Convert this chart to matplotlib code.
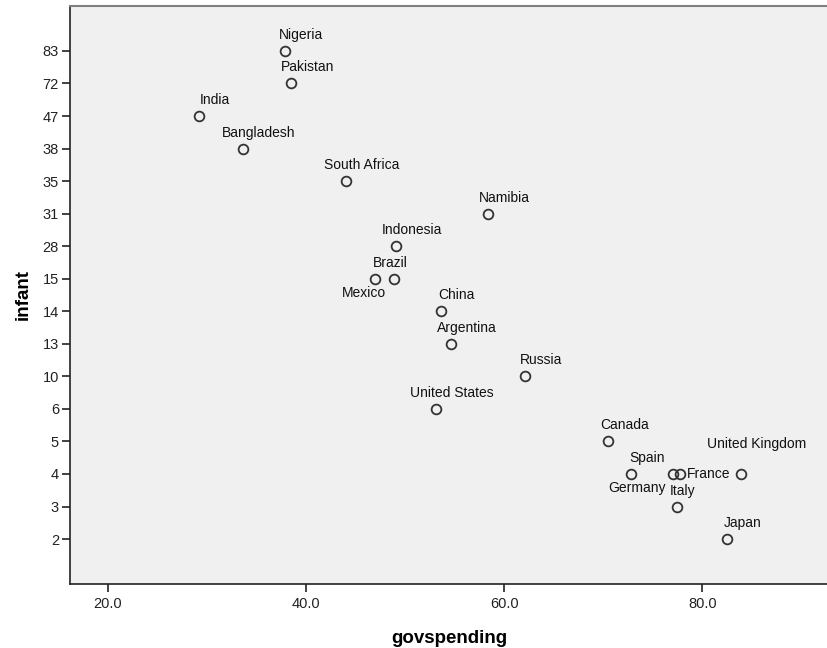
import matplotlib.pyplot as plt
import numpy as np

# Data
countries = ["Nigeria", "Pakistan", "India", "Bangladesh", "South Africa",
             "Namibia", "Indonesia", "Brazil", "Mexico", "China", "Argentina",
             "Russia", "United States", "Canada", "Spain", "Germany", "France",
             "United Kingdom", "Italy", "Japan"]
govspending = [37.9, 38.5, 29.2, 33.6, 44.0,
               58.4, 49.1, 48.9, 47.0, 53.6, 54.6,
               62.1, 53.1, 70.5, 72.8, 77.0, 77.8,
               83.9, 77.5, 82.5]
infant = [83, 72, 47, 38, 35,
          31, 28, 15, 15, 14, 13,
          10, 6, 5, 4, 4, 4,
          4, 3, 2]

# infant is shown as an ordinal axis: every distinct value gets one slot
levels = sorted(set(infant))
level_pos = {v: i for i, v in enumerate(levels)}

# label offsets in pixels (dx, dy), default is above and a bit right
label_offsets = {
    "Brazil": (-4, 16),
    "Mexico": (-11, -14),
    "Germany": (-36, -14),
    "France": (28, 0),
    "United Kingdom": (16, 30),
    "Italy": (5, 16),
}

plt.rcParams['font.family'] = ['Liberation Sans', 'DejaVu Sans']

fig = plt.figure(figsize=(8.28, 6.48), dpi=100)
ax = fig.add_axes([70 / 828, 64 / 648, 758 / 828, 578 / 648])
ax.set_facecolor("#f0f0f0")

ys = [level_pos[v] for v in infant]
ax.plot(govspending, ys, "o", markersize=7, markerfacecolor="none",
        markeredgecolor="#333333", markeredgewidth=1.3)

for name, x, y in zip(countries, govspending, ys):
    dx, dy = label_offsets.get(name, (16, 16))
    ax.annotate(name, (x, y), xytext=(dx * 0.72, dy * 0.72),
                textcoords="offset points", ha="center", va="center",
                fontsize=10, color="#111111")

ax.set_xlim(16.16, 92.7)
ax.set_ylim(-1.38, len(levels) - 1 + 1.38)
ax.set_xticks([20, 40, 60, 80])
ax.set_xticklabels(["20.0", "40.0", "60.0", "80.0"])
ax.set_yticks(range(len(levels)))
ax.set_yticklabels([str(v) for v in levels])

ax.spines["right"].set_visible(False)
ax.spines["top"].set_color("#808080")
ax.spines["top"].set_linewidth(1.5)
for s in ["left", "bottom"]:
    ax.spines[s].set_color("#222222")
    ax.spines[s].set_linewidth(1.2)

ax.tick_params(axis="both", length=6, width=1.2, color="#222222",
               labelsize=10.5, labelcolor="#222222", pad=2)
ax.tick_params(axis="x", pad=3)

ax.set_xlabel("govspending", fontsize=13.5, fontweight="bold", labelpad=14)
ax.set_ylabel("infant", fontsize=13.5, fontweight="bold", labelpad=8)

fig.savefig("out.png", dpi=100)
